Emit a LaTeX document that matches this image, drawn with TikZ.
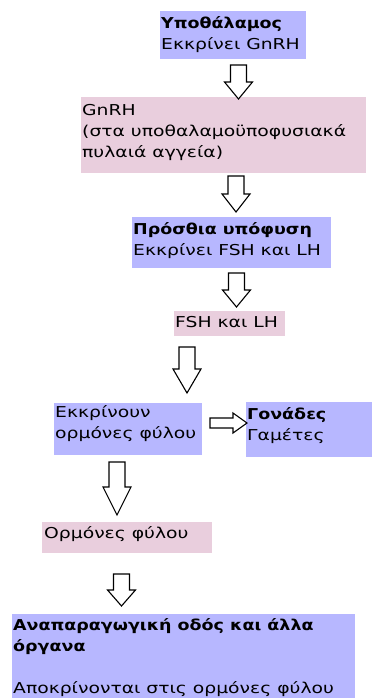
\documentclass[tikz,border=0pt]{standalone}
\usepackage{fontspec}
\setmainfont{DejaVu Sans}[FakeStretch=1.25]
\newfontface\boldface{DejaVu Sans Bold}[FakeStretch=1.165]
\definecolor{boxblue}{RGB}{183,183,255}
\definecolor{boxpink}{RGB}{233,206,221}
\newcommand\dblock[4]{% centre x, top, head start, tip
  \draw[blockarrow] ({#1-8},#2) -- ({#1+8},#2) -- ({#1+8},#3) -- ({#1+14},#3)
    -- (#1,#4) -- ({#1-14},#3) -- ({#1-8},#3) -- cycle;}
\newcommand\bt[1]{{\boldface #1}}
\tikzset{
  bluebox/.style={fill=boxblue, draw=none, inner sep=0pt, outer sep=0pt, anchor=north west},
  pinkbox/.style={fill=boxpink, draw=none, inner sep=0pt, outer sep=0pt, anchor=north west},
  lbl/.style={anchor=base west, inner sep=0pt, align=left, font=\fontsize{15}{21}\selectfont},
  blockarrow/.style={draw=black, fill=white, line width=1.1pt, line join=miter}
}
\begin{document}
\begin{tikzpicture}[x=1pt,y=-1pt]
\useasboundingbox[fill=white] (0,0) rectangle (375,698);
% boxes
\node[bluebox, minimum width=146pt, minimum height=48pt] (b1) at (160,11) {};
\node[pinkbox, minimum width=285pt, minimum height=76pt] (b2) at (81,97) {};
\node[bluebox, minimum width=199pt, minimum height=51pt] (b3) at (132,217) {};
\node[pinkbox, minimum width=111pt, minimum height=25pt] (b4) at (174,311) {};
\node[bluebox, minimum width=148pt, minimum height=52pt] (b5) at (54,403) {};
\node[bluebox, minimum width=126pt, minimum height=55pt] (b6) at (246,402) {};
\node[pinkbox, minimum width=170pt, minimum height=31pt] (b7) at (42,522) {};
\node[bluebox, minimum width=343pt, minimum height=90pt] (b8) at (12,614) {};
% texts (base west = baseline of the last line)
\node[lbl] (t1) at (161,49.5) {\bt{Υποθάλαμος}\\Εκκρίνει GnRH};
\node[lbl] (t2) at (82,157) {GnRH\\(στα υποθαλαμοϋποφυσιακά\\πυλαιά αγγεία)};
\node[lbl] (t3) at (133,255) {\bt{Πρόσθια υπόφυση}\\Εκκρίνει FSH και LH};
\node[lbl] (t4) at (175,327) {FSH και LH};
\node[lbl] (t5) at (55,438) {Εκκρίνουν\\ορμόνες φύλου};
\node[lbl] (t6) at (247,440) {\bt{Γονάδες}\\Γαμέτες};
\node[lbl] (t7) at (44,538) {Ορμόνες φύλου};
\node[lbl] (t8) at (13,693) {\bt{Αναπαραγωγική οδός και άλλα}\\\bt{όργανα}\\[21pt]Αποκρίνονται στις ορμόνες φύλου};
% arrows
\dblock{238.5}{65}{82}{99}
\dblock{236}{176}{194}{212}
\dblock{236.5}{273}{290}{307}
\dblock{187}{347}{369}{393}
\dblock{117}{462}{487}{515}
\dblock{121.5}{574}{590}{606}
\draw[blockarrow] (210,418) -- (233,418) -- (233,413) -- (247,423) -- (233,433) -- (233,428) -- (210,428) -- cycle;
\end{tikzpicture}
\end{document}
